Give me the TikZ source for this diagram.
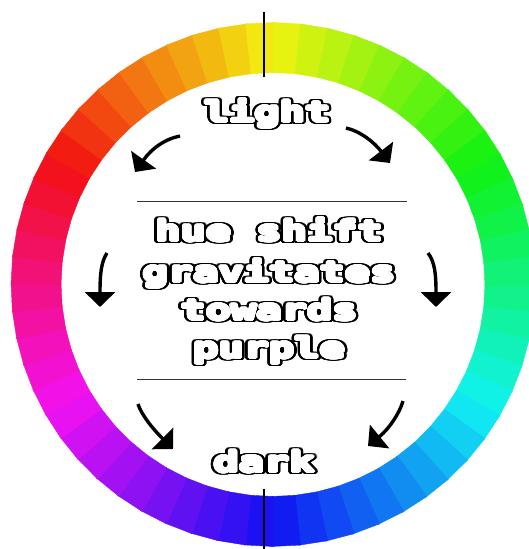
\documentclass[tikz,border=0pt]{standalone}
\usepackage{fontspec}
\usepackage{graphicx}
\usepackage{contour}
\usetikzlibrary{arrows.meta}

\newfontfamily\pixelfont{DejaVu Sans Mono}
\contournumber{32}
\newcommand{\pixtext}[1]{\scalebox{1.5}[1]{%
  \rlap{\contourlength{2.9pt}\contour{black}{#1}}%
  \contourlength{1.1pt}\contour{white}{#1}}}

\definecolor{ruleline}{RGB}{51,51,51}

\begin{document}
\begin{tikzpicture}[
  x=1pt, y=-1pt,
  pixel label/.style={
    text=white,
    font=\pixelfont\bfseries\fontsize{28}{28}\selectfont,
    anchor=base,
    inner sep=0pt
  },
  shift arrow/.style={
    line width=3.4pt,
    -{Triangle[width=30pt,length=15pt]}
  },
  divider/.style={
    line width=1pt,
    draw=ruleline
  },
  axis mark/.style={
    line width=2.6pt
  }
]
\def\ringout{262}
\def\ringin{212}

\clip (0,0) rectangle (529,549);
\fill[white] (0,0) rectangle (529,549);

% hue ring
\begin{scope}[shift={(273,284.5)}]
\foreach \k in {0,...,59} {
  \pgfmathsetmacro{\ta}{\k*6}
  \pgfmathsetmacro{\tb}{\k*6+6.4}
  \pgfmathsetmacro{\hue}{mod(\k*6+153,360)}
  \definecolor{segcol}{Hsb}{\hue,0.93,0.95}
  \filldraw[segcol, line width=0.4pt] (\ta:\ringout) -- (\tb:\ringout) -- (\tb:\ringin) -- (\ta:\ringin) -- cycle;
}
\end{scope}

\coordinate (top mark a) at (264,12);
\coordinate (top mark b) at (264,77);
\coordinate (bottom mark a) at (264,489);
\coordinate (bottom mark b) at (264,549);
\draw[axis mark] (top mark a) -- (top mark b);
\draw[axis mark] (bottom mark a) -- (bottom mark b);

\coordinate (rule top l) at (137,201);
\coordinate (rule top r) at (407,201);
\coordinate (rule bot l) at (137,379);
\coordinate (rule bot r) at (406,379);
\draw[divider] (rule top l) -- (rule top r);
\draw[divider] (rule bot l) -- (rule bot r);

\node[pixel label] (light) at (267,122) {\pixtext{light}};
\node[pixel label] (dark) at (264,472) {\pixtext{dark}};

\foreach \txt/\yy [count=\i] in {hue shift/241, gravitates/282, towards/320, purple/358} {
  \node[pixel label] (msg-\i) at (269,\yy) {\pixtext{\txt}};
}

% arrows, light to dark
\coordinate (ul tail) at (180,136);
\coordinate (ul tip) at (135,172);
\coordinate (ur tail) at (346,128);
\coordinate (ur tip) at (390,163);
\coordinate (l tail) at (107,253);
\coordinate (l tip) at (100,307);
\coordinate (r tail) at (428,253);
\coordinate (r tip) at (436,307);
\coordinate (ll tail) at (138,404);
\coordinate (ll tip) at (173,449);
\coordinate (lr tail) at (403,401);
\coordinate (lr tip) at (368,446);

\draw[shift arrow] (ul tail) .. controls (165,139) and (152,148) .. (ul tip);
\draw[shift arrow] (ur tail) .. controls (360,131) and (374,142) .. (ur tip);
\draw[shift arrow] (l tail) .. controls (101,262) and (100,275) .. (l tip);
\draw[shift arrow] (r tail) .. controls (435,262) and (436,275) .. (r tip);
\draw[shift arrow] (ll tail) .. controls (141,414) and (152,428) .. (ll tip);
\draw[shift arrow] (lr tail) .. controls (400,412) and (390,428) .. (lr tip);
\end{tikzpicture}
\end{document}
